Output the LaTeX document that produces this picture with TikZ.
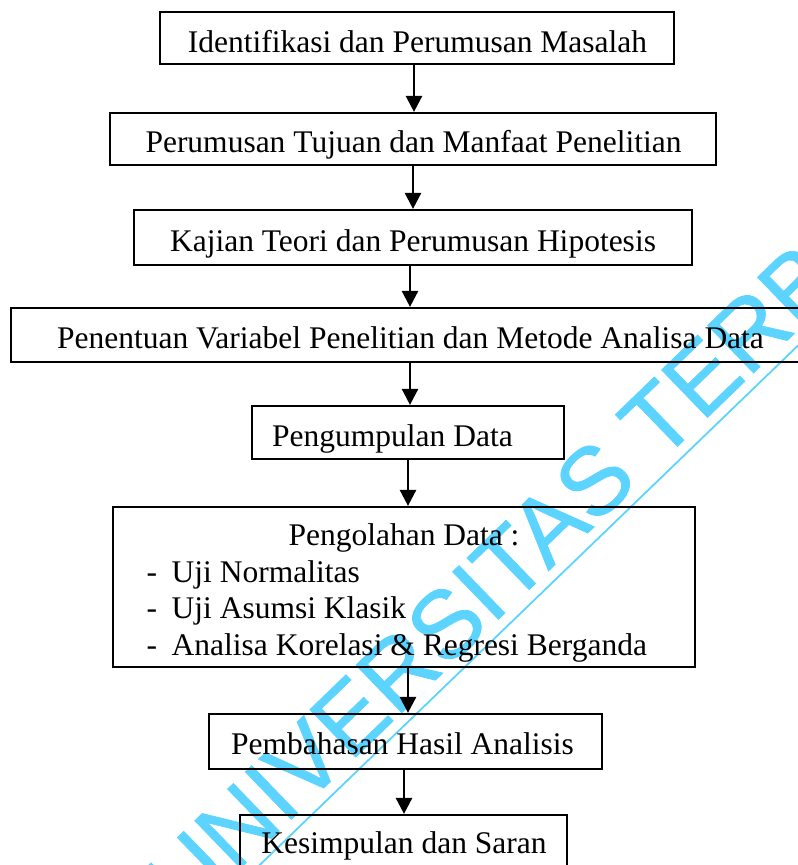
\documentclass[tikz,border=0pt]{standalone}
\usepackage{fontspec}
\setmainfont{Liberation Serif}
\newfontfamily\wmfont[FakeBold=0.8]{Liberation Sans}
\usetikzlibrary{arrows.meta}

\definecolor{wmcyan}{RGB}{92,212,255}

\tikzset{
  stepbox/.style={draw=black, line width=2.2pt, inner sep=0pt},
  steptext/.style={inner sep=0pt, font=\fontsize{31.5}{36.7}\selectfont},
  flow/.style={line width=2.6pt, -{Triangle[length=16pt,width=16pt]}},
  wmtext/.style={text=wmcyan, inner sep=0pt, font=\wmfont\fontsize{96}{96}\selectfont},
  wmline/.style={draw=wmcyan, line width=1.8pt},
}

\begin{document}
\begin{tikzpicture}[x=1pt,y=-1pt]
\useasboundingbox (0,0) rectangle (798,865);
\clip (0,0) rectangle (798,865);

% watermark underneath the chart
\node[wmtext, rotate=44, anchor=base west] (wm) at (185,922) {UNIVERSITAS TERBUKA};
\coordinate (ul1) at (240,884);
\coordinate (ul2) at (840,305);
\draw[wmline] (ul1) -- (ul2);

% boxes of the flow
\node[stepbox, minimum width=514pt, minimum height=52pt] (b1) at (417,38) {};
\node[stepbox, minimum width=606pt, minimum height=52pt] (b2) at (413,139) {};
\node[stepbox, minimum width=558pt, minimum height=55pt] (b3) at (413,237.5) {};
\node[stepbox, minimum width=801pt, minimum height=54pt] (b4) at (411.5,335) {};
\node[stepbox, minimum width=312pt, minimum height=53pt] (b5) at (408,432.5) {};
\node[stepbox, minimum width=582pt, minimum height=160pt] (b6) at (404,587) {};
\node[stepbox, minimum width=393pt, minimum height=55pt] (b7) at (405.5,741.5) {};
\node[stepbox, minimum width=327pt, minimum height=57pt] (b8) at (403.5,843.5) {};

% box labels
\node[steptext, anchor=base] (t1) at (417.5,52) {Identifikasi dan Perumusan Masalah};
\node[steptext, anchor=base] (t2) at (413.5,152) {Perumusan Tujuan dan Manfaat Penelitian};
\node[steptext, anchor=base] (t3) at (413,251) {Kajian Teori dan Perumusan Hipotesis};
\node[steptext, anchor=base] (t4) at (410.5,348) {Penentuan Variabel Penelitian dan Metode Analisa Data};
\node[steptext, anchor=base west] (t5) at (272,446) {Pengumpulan Data};
\node[steptext, anchor=base] (t6) at (404,545) {Pengolahan Data :};
\node[steptext, anchor=base west] (t6a) at (146.5,582) {-\hspace{14.5pt}Uji Normalitas};
\node[steptext, anchor=base west] (t6b) at (146.5,618) {-\hspace{14.5pt}Uji Asumsi Klasik};
\node[steptext, anchor=base west] (t6c) at (146.5,655) {-\hspace{14.5pt}Analisa Korelasi \& Regresi Berganda};
\node[steptext, anchor=base] (t7) at (402.5,754) {Pembahasan Hasil Analisis};
\node[steptext, anchor=base] (t8) at (404,853) {Kesimpulan dan Saran};

% connectors
\draw[flow] ([xshift=-3pt]b1.south) -- ([xshift=1pt]b2.north);
\draw[flow] (b2.south) -- (b3.north);
\draw[flow] ([xshift=-3pt]b3.south) -- ([xshift=-1.5pt]b4.north);
\draw[flow] ([xshift=-1.5pt]b4.south) -- ([xshift=2pt]b5.north);
\draw[flow] (b5.south) -- ([xshift=4pt]b6.north);
\draw[flow] ([xshift=4pt]b6.south) -- ([xshift=2.5pt]b7.north);
\draw[flow] ([xshift=-1.5pt]b7.south) -- ([xshift=0.5pt]b8.north);
\end{tikzpicture}
\end{document}
